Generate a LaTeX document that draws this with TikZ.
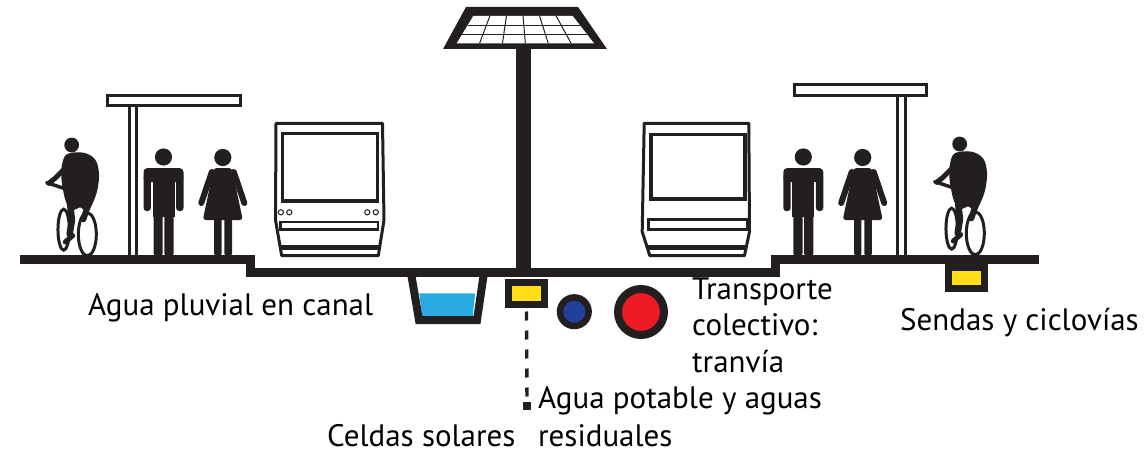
\documentclass[tikz,border=0pt]{standalone}
\usepackage{fontspec}
\setmainfont{PT Sans}
\usetikzlibrary{calc}
\definecolor{ink}{HTML}{231F20}
\definecolor{canalblue}{HTML}{29ABE2}
\definecolor{ductyellow}{HTML}{FFDE17}
\definecolor{pipeblue}{HTML}{21409A}
\definecolor{pipered}{HTML}{ED1C24}
\tikzset{
  labeltext/.style={anchor=base west, inner sep=0pt, font=\fontsize{31}{36}\selectfont, text=black},
  duct/.style={draw=ink, line width=7pt, fill=ductyellow, inner sep=0pt},
  roof/.style={draw=ink, line width=3pt, fill=white},
  tramline/.style={draw=ink, line width=3pt, line join=round},
  pics/man/.style={code={
    \fill[ink] (0,-98) circle[radius=8.6pt];
    \fill[ink, rounded corners=4pt] (-20,-87) rectangle (20,-73);
    \fill[ink, rounded corners=3pt] (-20,-80) rectangle (-12.6,-44);
    \fill[ink, rounded corners=3pt] (12.6,-80) rectangle (20,-44);
    \fill[ink] (-11,-80) rectangle (11,-38);
    \fill[ink, rounded corners=1pt] (-10,-40) rectangle (-0.8,0);
    \fill[ink, rounded corners=1pt] (0.8,-40) rectangle (10,0);
  }},
  pics/woman/.style={code={
    \fill[ink] (0,-97.5) circle[radius=8.6pt];
    \fill[ink, rounded corners=3pt] (-9,-87) -- (9,-87) -- (20,-35) -- (-20,-35) -- cycle;
    \draw[ink, line width=6pt, line cap=round] (-11,-83) -- (-21.5,-52);
    \draw[ink, line width=6pt, line cap=round] (11,-83) -- (21.5,-52);
    \fill[ink, rounded corners=1pt] (-8.7,-37) rectangle (-1.3,0);
    \fill[ink, rounded corners=1pt] (1.6,-37) rectangle (9.2,0);
  }},
  pics/cyclist/.style={code={
    \begin{scope}[x=0.3333pt, y=-0.3333pt]
      \fill[ink] (125,75) circle[radius=7.4pt];
      \fill[ink] plot[smooth cycle, tension=0.6] coordinates
        {(112,102) (160,98) (195,118) (207,160) (202,210) (188,250)
         (172,275) (150,262) (132,270) (112,255) (100,215) (94,170) (97,130)};
      \draw[ink, line width=6.5pt, line cap=round, line join=round]
        (120,250) -- (126,300) -- (119,342);
      \draw[ink, line width=6pt, line cap=round] (172,262) -- (160,298);
      \draw[ink, line width=5pt, line cap=round] (106,366) -- (128,347);
      \draw[ink, line width=5pt, line cap=round, line join=round]
        (100,150) -- (74,176) -- (56,190);
      \draw[ink, line width=3.5pt, line cap=round] (50,188) -- (105,206);
      \draw[ink, line width=3pt] (101,329) ellipse[x radius=5.7pt, y radius=20.5pt];
      \draw[ink, line width=3pt] (172,343) ellipse[x radius=9pt, y radius=21.5pt];
    \end{scope}
  }}
}
\begin{document}
\begin{tikzpicture}[x=1pt, y=-1pt]
  \useasboundingbox (0,0) rectangle (1144,452);

  % solar lamp: pole and panel with its grid of cells
  \fill[ink] (516,46) rectangle (531,270);
  \fill[ink] (443,49) -- (607,49) -- (578,7) -- (466,7) -- cycle;
  \coordinate (ptl) at (473.3,16);
  \coordinate (ptr) at (572.7,16);
  \coordinate (pbl) at (456.7,43.3);
  \coordinate (pbr) at (594,43.3);
  \fill[white] (ptl) -- (ptr) -- (pbr) -- (pbl) -- cycle;
  \foreach \t in {0.1667,0.3333,0.5,0.6667,0.8333}
    \draw[ink, line width=1pt] ($(ptl)!\t!(ptr)$) -- ($(pbl)!\t!(pbr)$);
  \foreach \t in {0.3333,0.6667}
    \draw[ink, line width=1pt] ($(ptl)!\t!(pbl)$) -- ($(ptr)!\t!(pbr)$);

  % platform shelters
  \draw[roof] (129.5,104) rectangle (136.5,257);
  \draw[roof] (107.5,95.5) rectangle (240.5,105.5);
  \draw[roof] (897.5,94) rectangle (905.5,257);
  \draw[roof] (794.5,84.5) rectangle (926.5,95.5);

  % left tram, front view
  \draw[tramline] (276,123.3) -- (382.5,123.3) -- (384,220) -- (378.3,255.7)
    -- (281.7,255.7) -- (275.5,220) -- cycle;
  \draw[ink, line width=3.5pt] (282.5,133.5) rectangle (377.5,201);
  \foreach \lx in {280.9,289.3,367.3,375.8}
    \draw[ink, line width=1pt] (\lx,212.3) circle[radius=2.6pt];
  \draw[ink, line width=2.5pt] (280.5,222.2) rectangle (378,229.5);
  \fill[ink] (280.3,245) rectangle (380.5,250.2);

  % right tram, front view
  \draw[tramline] (644.2,123.3) -- (748.8,123.3) -- (749.5,231.7) -- (744.5,255.7)
    -- (649.8,255.7) -- (642.2,231.7) -- cycle;
  \draw[ink, line width=3.5pt] (651,134.5) rectangle (745,199);
  \draw[ink, line width=2.5pt] (648.5,219.5) rectangle (747.5,229.5);
  \fill[ink] (648,245) rectangle (747,250.2);

  % people on the platforms
  \pic (cyclistleft) at (30,120) {cyclist};
  \pic (cyclistright) at (918,119) {cyclist};
  \pic (manleft) at (163.5,255) {man};
  \pic (womanleft) at (222.8,255) {woman};
  \pic (manright) at (803.3,255) {man};
  \pic (womanright) at (862.7,255) {woman};

  % street section: sidewalks and lowered carriageway
  \draw[ink, line width=9pt, line join=miter]
    (20,259.5) -- (250.5,259.5) -- (250.5,272.5) -- (775,272.5)
    -- (775,259.5) -- (1039,259.5);

  % rainwater canal
  \fill[canalblue] (419.3,293.3) -- (475.2,293.3) -- (472.6,317) -- (422.3,317) -- cycle;
  \draw[ink, line width=8pt, line join=miter]
    (411.5,276) -- (419,320) -- (477,320) -- (483.5,276);

  % buried services
  \node[duct, minimum width=36pt, minimum height=22pt] (solarduct) at (526.5,293.5) {};
  \node[duct, minimum width=36pt, minimum height=21pt] (bikeduct) at (966.5,278) {};
  \draw[ink, line width=6.5pt, fill=pipeblue] (574.3,311.7) circle[radius=14.3pt];
  \draw[ink, line width=8pt, fill=pipered] (641,312) circle[radius=23pt];
  \node[fill=ink, minimum size=8pt, inner sep=0pt] (solartick) at (527,406) {};
  \draw[ink, line width=3.4pt, dash pattern=on 9pt off 10pt]
    (solarduct.south) ++(0,3.5) -- (solartick.north);

  % labels
  \node[labeltext] (canallabel) at (88,315) {Agua pluvial en canal};
  \node[labeltext] (tram1) at (692,299) {Transporte};
  \node[labeltext] (tram2) at (692,335.5) {colectivo:};
  \node[labeltext] (tram3) at (692,372) {tranvía};
  \node[labeltext] (bikelabel) at (900,330) {Sendas y ciclovías};
  \node[labeltext] (water1) at (538,408) {Agua potable y aguas};
  \node[labeltext, text depth=0pt] (water2) at (538,446) {residuales};
  \node[labeltext, text depth=0pt] (solarlabel) at (327,446) {Celdas solares};
\end{tikzpicture}
\end{document}
